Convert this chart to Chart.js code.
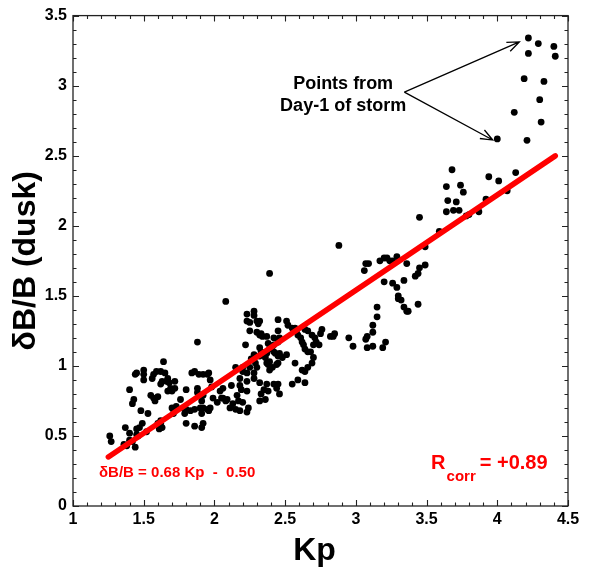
<!DOCTYPE html>
<html><head><meta charset="utf-8">
<script src="https://cdn.jsdelivr.net/npm/chart.js@4/dist/chart.umd.min.js"></script>
<style>html,body{margin:0;padding:0;background:#fff}</style>
</head><body>
<canvas id="c" width="589" height="569" style="display:block;width:589px;height:569px"></canvas>
<script>
// ---- data: [Kp, dB/B] ----
const day1Points = [[4.22,3.34],[4.29,3.30],[4.40,3.28],[4.22,3.23],[4.41,3.21],[4.19,3.05],[4.33,3.03],[4.30,2.90],[4.12,2.81],[4.31,2.74],[4.00,2.62],[4.21,2.61]];
const highPoints = [[3.68,2.40],[3.94,2.35],[3.64,2.28],[3.74,2.29],[3.76,2.24],[3.65,2.18],[3.71,2.17],[3.92,2.19],[3.64,2.10],[3.69,2.11],[3.73,2.11],[3.78,2.07],[3.80,2.08],[3.87,2.10],[3.45,2.06],[3.59,1.96],[4.01,2.32],[4.13,2.38],[4.07,2.25]];
const midPoints = [[2.88,1.86],[3.49,1.85],[3.07,1.73],[3.09,1.73],[3.06,1.68],[3.17,1.75],[3.20,1.77],[3.22,1.77],[3.24,1.75],[3.26,1.75],[3.29,1.78],[3.36,1.73],[3.49,1.72],[3.45,1.70],[3.44,1.66],[3.42,1.64],[3.20,1.60],[3.26,1.59],[3.29,1.56],[3.34,1.61],[3.30,1.50],[3.30,1.48],[3.32,1.47],[3.34,1.42],[3.36,1.39],[3.37,1.39],[3.44,1.44],[3.15,1.42],[3.15,1.35],[3.12,1.29],[3.12,1.24],[3.08,1.21],[3.07,1.19],[3.08,1.13],[3.12,1.14],[3.19,1.13],[3.21,1.17],[2.95,1.20],[2.98,1.14],[2.85,1.23],[2.84,1.21],[2.82,1.21]];
const cluster26Points = [[2.39,1.66],[2.45,1.33],[2.51,1.32],[2.52,1.29],[2.55,1.27],[2.57,1.27],[2.58,1.25],[2.59,1.22],[2.61,1.20],[2.62,1.17],[2.63,1.15],[2.64,1.12],[2.66,1.10],[2.64,1.26],[2.66,1.25],[2.69,1.22],[2.71,1.20],[2.72,1.17],[2.74,1.15],[2.70,1.15],[2.75,1.23],[2.76,1.26],[2.68,1.10],[2.70,1.06],[2.69,1.02],[2.66,0.99],[2.64,0.96],[2.62,0.97],[2.57,1.02],[2.59,0.90],[2.64,0.88],[2.55,0.87]];
const cluster23Points = [[2.08,1.46],[2.28,1.39],[2.28,1.36],[2.30,1.32],[2.32,1.32],[2.31,1.30],[2.23,1.37],[2.23,1.32],[2.25,1.31],[2.25,1.25],[2.30,1.24],[2.32,1.22],[2.33,1.23],[2.34,1.21],[2.22,1.15],[2.37,1.21],[2.38,1.16],[2.41,1.14],[2.42,1.20],[2.45,1.25],[2.46,1.20],[2.45,1.17],[2.42,1.15],[2.39,1.12],[2.42,1.10],[2.46,1.09],[2.51,1.08],[2.45,1.07],[2.43,1.09],[2.48,1.06],[2.45,1.02],[2.32,1.13],[2.33,1.10],[2.37,1.09],[2.36,1.06],[2.39,1.03],[2.38,1.01],[2.41,0.99],[2.44,1.01],[2.37,1.02],[2.39,0.97],[2.32,1.07],[2.28,1.08],[2.26,1.05],[2.29,1.02],[2.30,0.99],[2.25,0.99],[2.28,0.95],[2.20,0.96],[2.20,0.99],[2.15,0.99],[2.23,0.95],[2.18,0.91],[2.23,0.89],[2.28,0.91],[2.32,0.88],[2.37,0.87],[2.42,0.87],[2.44,0.84],[2.35,0.83],[2.38,0.82],[2.45,0.87],[2.46,0.80],[2.33,0.80],[2.36,0.76],[2.32,0.75],[2.18,0.86],[2.19,0.83],[2.23,0.82],[2.12,0.86],[2.17,0.75],[2.20,0.74],[2.24,0.70],[2.23,0.67],[2.18,0.68],[2.13,0.73],[2.11,0.70],[2.15,0.69],[2.16,0.79],[2.06,0.77],[2.09,0.76],[2.04,0.82],[2.05,0.77],[2.06,0.84],[2.08,0.75],[1.99,0.77],[2.02,0.74],[1.97,0.70],[1.96,0.68],[1.95,0.69],[1.91,0.75],[1.92,0.79]];
const lowPoints = [[1.88,1.17],[1.64,1.03],[1.50,0.97],[1.50,0.94],[1.57,0.94],[1.59,0.96],[1.62,0.96],[1.56,0.91],[1.45,0.95],[1.44,0.94],[1.50,0.90],[1.65,0.95],[1.67,0.91],[1.68,0.88],[1.66,0.89],[1.63,0.89],[1.62,0.87],[1.69,0.84],[1.67,0.82],[1.70,0.82],[1.72,0.84],[1.72,0.89],[1.40,0.83],[1.43,0.76],[1.42,0.73],[1.48,0.68],[1.53,0.66],[1.55,0.79],[1.57,0.77],[1.60,0.78],[1.58,0.75],[1.62,0.59],[1.60,0.59],[1.63,0.56],[1.61,0.55],[1.62,0.61],[1.49,0.59],[1.45,0.55],[1.47,0.56],[1.45,0.51],[1.37,0.56],[1.40,0.52],[1.46,0.50],[1.52,0.53],[1.26,0.50],[1.27,0.46],[1.36,0.44],[1.40,0.47],[1.42,0.46],[1.38,0.43],[1.44,0.42],[1.70,0.70],[1.72,0.68],[1.71,0.66],[1.78,0.70],[1.80,0.69],[1.83,0.68],[1.79,0.66],[1.86,0.69],[1.90,0.70],[1.92,0.70],[1.91,0.66],[1.80,0.59],[1.86,0.57],[1.92,0.59],[1.91,0.56],[1.84,0.95],[1.86,0.96],[1.89,0.94],[1.92,0.94],[1.95,0.94],[1.97,0.90],[1.98,0.85],[1.96,0.95],[1.80,0.83],[1.88,0.84],[1.88,0.81],[1.76,0.76],[1.73,0.71]];

const xTickLabels = [1, 1.5, 2, 2.5, 3, 3.5, 4, 4.5];
const yTickLabels = [0, 0.5, 1, 1.5, 2, 2.5, 3, 3.5];
const fitSlope = 0.68, fitIntercept = -0.50;
const fitKpRange = [1.25, 4.41];
const corrText = '= +0.89';
const eqText = '\u03B4B/B = 0.68 Kp  -  0.50';
const noteLines = ['Points from', 'Day-1 of storm'];
// annotation anchors in data units [Kp, dB/B]
const noteAnchor = [2.91, 2.977];
const arrowStart = [3.343, 2.954];
const arrowTips = [[4.156, 3.312], [3.968, 2.612]];
const eqAnchor = [1.184, 0.205];
const corrAnchor = [3.532, 0.262];

const allPoints = [].concat(lowPoints, cluster23Points, cluster26Points, midPoints, highPoints, day1Points)
  .map(p => ({x: p[0], y: p[1]}));
const fitLine = fitKpRange.map(k => ({x: k, y: fitSlope * k + fitIntercept}));

const FONT = "'Liberation Sans', Arial, Helvetica, sans-serif";

const decor = {
  id: 'decor',
  afterDraw(chart) {
    const ctx = chart.ctx, a = chart.chartArea;
    const xs = chart.scales.x, ys = chart.scales.y;
    ctx.save();
    // frame
    ctx.strokeStyle = '#222'; ctx.lineWidth = 1.3;
    ctx.strokeRect(a.left, a.top, a.right - a.left, a.bottom - a.top);
    // ticks, inward on all sides
    ctx.lineWidth = 1.1;
    ctx.beginPath();
    for (let i = 10; i <= 45; i++) {
      const px = Math.round(xs.getPixelForValue(i / 10)) + 0.5;
      const L = (i % 5 === 0) ? 6 : 3.5;
      ctx.moveTo(px, a.bottom); ctx.lineTo(px, a.bottom - L);
      ctx.moveTo(px, a.top); ctx.lineTo(px, a.top + L);
    }
    for (let i = 0; i <= 35; i++) {
      const py = Math.round(ys.getPixelForValue(i / 10)) + 0.5;
      const L = (i % 5 === 0) ? 6 : 3.5;
      ctx.moveTo(a.left, py); ctx.lineTo(a.left + L, py);
      ctx.moveTo(a.right, py); ctx.lineTo(a.right - L, py);
    }
    ctx.stroke();

    // axis titles
    ctx.fillStyle = '#000';
    ctx.font = 'bold 32px ' + FONT;
    ctx.textAlign = 'center'; ctx.textBaseline = 'alphabetic';
    ctx.fillText('Kp', (a.left + a.right) / 2 - 6, 560);
    ctx.save();
    ctx.translate(35, (a.top + a.bottom) / 2);
    ctx.rotate(-Math.PI / 2);
    ctx.fillText('\u03B4B/B (dusk)', 0, 0);
    ctx.restore();

    // note text
    ctx.font = 'bold 18px ' + FONT;
    const nx = xs.getPixelForValue(noteAnchor[0]);
    const ny = ys.getPixelForValue(noteAnchor[1]);
    ctx.fillText(noteLines[0], nx, ny);
    ctx.fillText(noteLines[1], nx, ny + 22);

    // arrows
    ctx.strokeStyle = '#000'; ctx.lineWidth = 1.3;
    const sx = xs.getPixelForValue(arrowStart[0]), sy = ys.getPixelForValue(arrowStart[1]);
    arrowTips.forEach(t => {
      const tx = xs.getPixelForValue(t[0]), ty = ys.getPixelForValue(t[1]);
      const ang = Math.atan2(ty - sy, tx - sx);
      ctx.beginPath();
      ctx.moveTo(sx, sy); ctx.lineTo(tx, ty);
      const hl = 13, ha = 0.38;
      ctx.moveTo(tx - hl * Math.cos(ang - ha), ty - hl * Math.sin(ang - ha));
      ctx.lineTo(tx, ty);
      ctx.lineTo(tx - hl * Math.cos(ang + ha), ty - hl * Math.sin(ang + ha));
      ctx.stroke();
    });

    // equation
    ctx.fillStyle = '#ff0000';
    ctx.textAlign = 'left';
    ctx.font = 'bold 15px ' + FONT;
    ctx.fillText(eqText, xs.getPixelForValue(eqAnchor[0]), ys.getPixelForValue(eqAnchor[1]));

    // R_corr
    const rx = xs.getPixelForValue(corrAnchor[0]), ry = ys.getPixelForValue(corrAnchor[1]);
    ctx.font = 'bold 20px ' + FONT;
    ctx.fillText('R', rx, ry);
    const rw = ctx.measureText('R').width;
    ctx.font = 'bold 15px ' + FONT;
    ctx.fillText('corr', rx + rw + 1, ry + 12);
    const cw = ctx.measureText('corr').width;
    ctx.font = 'bold 20px ' + FONT;
    ctx.fillText(corrText, rx + rw + 1 + cw + 4, ry);
    ctx.restore();
  }
};

const tickFont = {family: FONT, size: 16, weight: 'bold'};

new Chart(document.getElementById('c'), {
  type: 'scatter',
  data: {
    datasets: [
      {data: allPoints, pointRadius: 3.4, pointBackgroundColor: '#000', pointBorderWidth: 0, showLine: false, order: 2},
      {type: 'line', data: fitLine, borderColor: '#ff0000', borderWidth: 5.5, pointRadius: 0, borderCapStyle: 'round', fill: false, order: 1}
    ]
  },
  options: {
    responsive: false, animation: false, devicePixelRatio: 1,
    layout: {padding: {top: 11, right: 21, left: 0, bottom: 0}},
    plugins: {legend: {display: false}, tooltip: {enabled: false}},
    scales: {
      x: {
        type: 'linear', min: 1, max: 4.5,
        afterBuildTicks: s => { s.ticks = xTickLabels.map(v => ({value: v})); },
        afterFit: s => { s.height = 63; },
        grid: {display: false, drawTicks: false}, border: {display: false},
        ticks: {padding: 4, color: '#000', font: tickFont, maxRotation: 0, autoSkip: false, callback: v => String(v)}
      },
      y: {
        type: 'linear', min: 0, max: 3.5,
        afterBuildTicks: s => { s.ticks = yTickLabels.map(v => ({value: v})); },
        afterFit: s => { s.width = 73; },
        grid: {display: false, drawTicks: false}, border: {display: false},
        ticks: {padding: 6, color: '#000', font: tickFont, autoSkip: false, callback: v => String(v)}
      }
    }
  },
  plugins: [decor]
});
</script>
</body></html>
